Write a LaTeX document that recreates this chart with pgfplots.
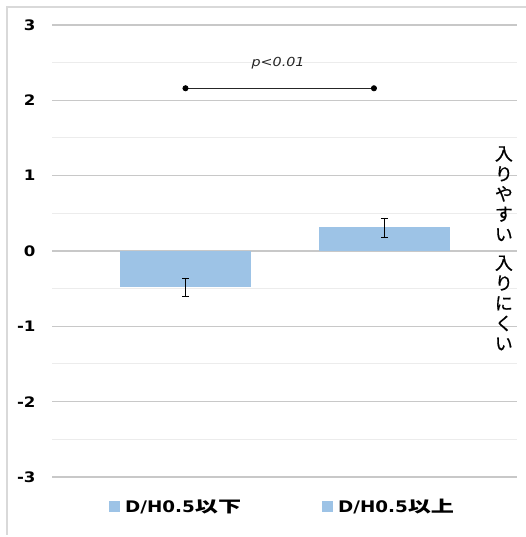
\documentclass[border=0pt]{standalone}
\usepackage{pgfplots}
\pgfplotsset{compat=1.18}
\usepackage{fontspec}
\newfontfamily\latb{DejaVu Sans}[FakeStretch=1.15]
\newfontfamily\jpl{Noto Sans CJK JP}[FakeStretch=1.45]
\newfontfamily\jpv{Noto Sans CJK JP}[FakeBold=0.6]
\definecolor{barblue}{RGB}{157,195,230}
\definecolor{gridmaj}{RGB}{200,200,200}
\definecolor{gridmin}{RGB}{236,236,236}
\definecolor{framec}{RGB}{217,217,217}
\begin{document}
\begin{tikzpicture}[x=1bp,y=1bp]
\useasboundingbox (0,0) rectangle (526,537);
\draw[framec, line width=1.2bp] (7,2) -- (7,530) -- (526,530);
\begin{axis}[at={(52bp,60bp)}, anchor=south west, scale only axis,
  width=465bp, height=452bp,
  xmin=-0.671, xmax=1.666, ymin=-3, ymax=3,
  axis line style={draw=none}, xtick=\empty,
  ytick={-3,-2,-1,0,1,2,3}, yticklabels={-3,-2,-1,0,1,2,3},
  minor ytick={-2.5,-1.5,-0.5,0.5,1.5,2.5},
  ymajorgrids, yminorgrids,
  major grid style={gridmaj, line width=1.1bp},
  minor grid style={gridmin, line width=1bp},
  major tick length=0pt, minor tick length=0pt,
  yticklabel style={font=\latb\bfseries\fontsize{14.5}{16}\selectfont, anchor=east, xshift=-13bp},
  clip=false,
  legend columns=2,
  legend style={at={(0.496,-0.066)}, anchor=center, draw=none, fill=none,
    font=\fontsize{16}{18}\selectfont,
    /tikz/every even column/.append style={column sep=79bp}},
]
\addplot[ybar, bar width=131bp, bar shift=0pt, fill=barblue, draw=none,
  legend image code/.code={\fill[barblue] (0bp,-5.5bp) rectangle (11bp,5.5bp);},
  error bars/.cd, y dir=both, y explicit,
  error bar style={black, line width=0.6bp},
  error mark options={black, mark size=3.5bp, rotate=90, line width=0.6bp}]
  coordinates {(0,-0.48) +- (0,0.122)};
\addlegendentry{\hspace*{3bp}{\latb\bfseries D/H0.5}{\jpl\bfseries 以下}}
\addplot[ybar, bar width=131bp, bar shift=0pt, fill=barblue, draw=none,
  legend image code/.code={\fill[barblue] (0bp,-5.5bp) rectangle (11bp,5.5bp);},
  error bars/.cd, y dir=both, y explicit,
  error bar style={black, line width=0.6bp},
  error mark options={black, mark size=3.5bp, rotate=90, line width=0.6bp}]
  coordinates {(1,0.312) +- (0,0.126)};
\addlegendentry{\hspace*{3bp}{\latb\bfseries D/H0.5}{\jpl\bfseries 以上}}
\addplot[sharp plot, black!85, line width=0.8bp, mark=*, mark size=2.6bp,
  mark options={fill=black, draw=black}, forget plot]
  coordinates {(0,2.16) (0.947,2.16)};
\node[font=\latb\itshape\fontsize{12.5}{14}\selectfont, text=black!85] at (axis cs:0.465,2.49) {p<0.01};
\node[font=\jpv\fontsize{18}{20.25}\selectfont, align=center] at (axis cs:1.60,0.76) {入\\り\\や\\す\\い};
\node[font=\jpv\fontsize{18}{20.25}\selectfont, align=center] at (axis cs:1.60,-0.69) {入\\り\\に\\く\\い};
\end{axis}
\end{tikzpicture}
\end{document}
